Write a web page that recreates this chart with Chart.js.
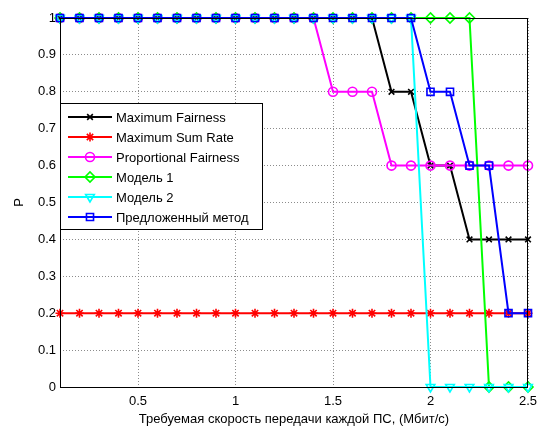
<!DOCTYPE html>
<html>
<head>
<meta charset="utf-8">
<script src="https://cdn.jsdelivr.net/npm/chart.js@4/dist/chart.umd.min.js"></script>
<style>
  html, body { margin: 0; padding: 0; background: #fff; }
  #wrap { width: 538px; height: 427px; }
</style>
</head>
<body>
<div id="wrap"><canvas id="myChart" width="538" height="427"></canvas></div>
<script>
// x values (Мбит/с)
var xVals = [0.1, 0.2, 0.3, 0.4, 0.5, 0.6, 0.7, 0.8, 0.9, 1.0, 1.1, 1.2, 1.3, 1.4, 1.5, 1.6, 1.7, 1.8, 1.9, 2.0, 2.1, 2.2, 2.3, 2.4, 2.5];

// series
var maxFairness = [1, 1, 1, 1, 1, 1, 1, 1, 1, 1, 1, 1, 1, 1, 1, 1, 1, 0.8, 0.8, 0.6, 0.6, 0.4, 0.4, 0.4, 0.4];
var maxSumRate = [0.2, 0.2, 0.2, 0.2, 0.2, 0.2, 0.2, 0.2, 0.2, 0.2, 0.2, 0.2, 0.2, 0.2, 0.2, 0.2, 0.2, 0.2, 0.2, 0.2, 0.2, 0.2, 0.2, 0.2, 0.2];
var propFairness = [1, 1, 1, 1, 1, 1, 1, 1, 1, 1, 1, 1, 1, 1, 0.8, 0.8, 0.8, 0.6, 0.6, 0.6, 0.6, 0.6, 0.6, 0.6, 0.6];
var model1 = [1, 1, 1, 1, 1, 1, 1, 1, 1, 1, 1, 1, 1, 1, 1, 1, 1, 1, 1, 1, 1, 1, 0, 0, 0];
var model2 = [1, 1, 1, 1, 1, 1, 1, 1, 1, 1, 1, 1, 1, 1, 1, 1, 1, 1, 1, 0, 0, 0, 0, 0, 0];
var proposed = [1, 1, 1, 1, 1, 1, 1, 1, 1, 1, 1, 1, 1, 1, 1, 1, 1, 1, 1, 0.8, 0.8, 0.6, 0.6, 0.2, 0.2];

var seriesNames = ["Maximum Fairness", "Maximum Sum Rate", "Proportional Fairness", "Модель 1", "Модель 2", "Предложенный метод"];

// tick labels
var xTicks = [0.5, 1, 1.5, 2, 2.5];
var yTicks = [0, 0.1, 0.2, 0.3, 0.4, 0.5, 0.6, 0.7, 0.8, 0.9, 1];

var xTitle = "Требуемая скорость передачи каждой ПС, (Мбит/с)";
var yTitle = "P";

var FONT = "'Liberation Sans', Arial, sans-serif";

function pts(arr) {
    return arr.map(function (v, i) { return { x: xVals[i], y: v }; });
}

var styles = [
    { color: "#000000", style: "crossRot", radius: 4, rot: 0 },
    { color: "#ff0000", style: "star", radius: 4.5, rot: 0 },
    { color: "#ff00ff", style: "circle", radius: 4.5, rot: 0 },
    { color: "#00ff00", style: "rectRot", radius: 5, rot: 0 },
    { color: "#00ffff", style: "triangle", radius: 5, rot: 180 },
    { color: "#0000ff", style: "rect", radius: 5, rot: 0 }
];
var allData = [maxFairness, maxSumRate, propFairness, model1, model2, proposed];

var datasets = allData.map(function (d, i) {
    var s = styles[i];
    return {
        label: seriesNames[i],
        data: pts(d),
        borderColor: s.color,
        backgroundColor: "rgba(0,0,0,0)",
        borderWidth: 2,
        pointStyle: s.style,
        pointRadius: s.radius,
        pointRotation: s.rot,
        pointBorderColor: s.color,
        pointBackgroundColor: "rgba(0,0,0,0)",
        pointBorderWidth: 1.6,
        tension: 0,
        clip: false,
        order: 10 - i
    };
});

// box + legend inside the plot
var boxPlugin = {
    id: "boxPlugin",
    afterDatasetsDraw: function (chart) {
        var ctx = chart.ctx, a = chart.chartArea;
        ctx.save();
        ctx.strokeStyle = "#000";
        ctx.lineWidth = 1;
        ctx.strokeRect(a.left + 0.5, a.top + 0.5, a.right - a.left - 1, a.bottom - a.top);

        // legend
        var lx = 60, ly = 103, lw = 202, lh = 126;
        ctx.fillStyle = "#fff";
        ctx.fillRect(lx, ly, lw, lh);
        ctx.strokeRect(lx + 0.5, ly + 0.5, lw, lh);
        ctx.font = "13px " + FONT;
        ctx.textBaseline = "middle";
        for (var i = 0; i < seriesNames.length; i++) {
            var y = ly + 14 + i * 20;
            var s = styles[i];
            ctx.strokeStyle = s.color;
            ctx.lineWidth = 2;
            ctx.beginPath();
            ctx.moveTo(68, y);
            ctx.lineTo(112, y);
            ctx.stroke();
            ctx.lineWidth = 1.6;
            ctx.fillStyle = "rgba(0,0,0,0)";
            if (Chart.helpers && Chart.helpers.drawPoint) {
                Chart.helpers.drawPoint(ctx, { pointStyle: s.style, radius: s.radius, rotation: s.rot, borderWidth: 1.6 }, 90, y);
            }
            ctx.fillStyle = "#000";
            ctx.fillText(seriesNames[i], 116, y + 1);
        }
        ctx.restore();
    }
};

var ctx = document.getElementById("myChart").getContext("2d");
var myChart = new Chart(ctx, {
    type: "line",
    data: { datasets: datasets },
    options: {
        responsive: false,
        animation: false,
        layout: { padding: { left: 0, right: 10, top: 18, bottom: 0 } },
        plugins: { legend: { display: false }, tooltip: { enabled: false } },
        scales: {
            x: {
                type: "linear",
                min: 0.1,
                max: 2.5,
                afterBuildTicks: function (scale) {
                    scale.ticks = xTicks.map(function (v) { return { value: v }; });
                },
                afterFit: function (scale) {
                    scale.height = 40;
                    scale.paddingRight = 0;
                    scale.paddingLeft = 0;
                },
                ticks: {
                    color: "#000",
                    font: { family: FONT, size: 13 },
                    padding: 7,
                    maxRotation: 0,
                    callback: function (v) { return String(v); }
                },
                grid: { color: "#8c8c8c", lineWidth: 1, drawTicks: false },
                border: { display: false, dash: [1, 2] },
                title: {
                    display: true,
                    text: xTitle,
                    color: "#000",
                    font: { family: FONT, size: 13 },
                    padding: { top: 0, bottom: 0 }
                }
            },
            y: {
                min: 0,
                max: 1,
                afterBuildTicks: function (scale) {
                    scale.ticks = yTicks.map(function (v) { return { value: v }; });
                },
                afterFit: function (scale) {
                    scale.width = 60;
                    scale.paddingTop = 0;
                    scale.paddingBottom = 0;
                },
                ticks: {
                    color: "#000",
                    font: { family: FONT, size: 13 },
                    padding: 4,
                    callback: function (v) { return String(Math.round(v * 10) / 10); }
                },
                grid: { color: "#8c8c8c", lineWidth: 1, drawTicks: false },
                border: { display: false, dash: [1, 2] },
                title: {
                    display: true,
                    text: yTitle,
                    color: "#000",
                    font: { family: FONT, size: 13 },
                    padding: { top: 12, bottom: 4 }
                }
            }
        }
    },
    plugins: [boxPlugin]
});
</script>
</body>
</html>
